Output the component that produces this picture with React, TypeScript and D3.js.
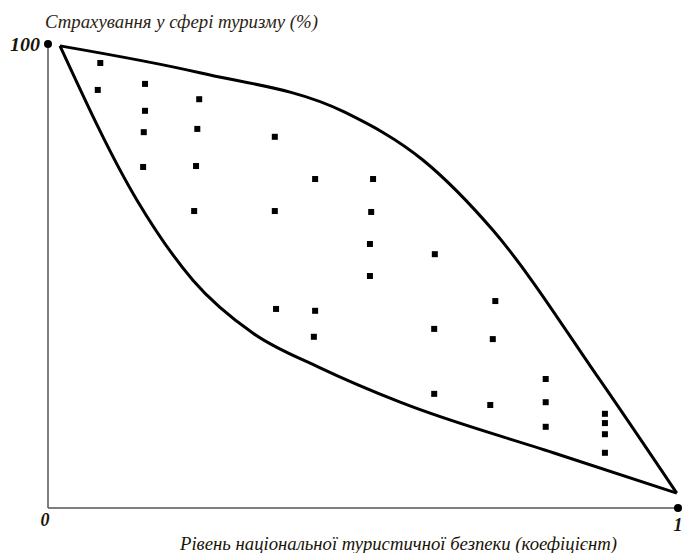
import React from 'react';
import * as d3 from 'd3';

// observed points (x = coefficient 0..1, y = %)
const pointsX = [0.083, 0.079, 0.154, 0.154, 0.152, 0.151, 0.24, 0.237, 0.235, 0.232, 0.36, 0.36, 0.362,
  0.424, 0.424, 0.422, 0.516, 0.513, 0.511, 0.511, 0.614, 0.613, 0.613, 0.71, 0.706, 0.702,
  0.79, 0.79, 0.79, 0.884, 0.884, 0.884, 0.884];
const pointsY = [95.9, 90.1, 91.4, 85.6, 81.0, 73.5, 88.1, 81.7, 73.7, 64.0, 80.0, 64.0, 42.9,
  70.9, 42.5, 36.9, 70.9, 63.8, 56.9, 50.0, 54.7, 38.6, 24.6, 44.6, 36.4, 22.2,
  27.8, 22.8, 17.5, 20.3, 18.3, 15.9, 11.9];

// upper boundary of the area
const upperX = [0.019, 0.241, 0.471, 0.595, 0.706, 0.876, 0.998];
const upperY = [99.6, 93.8, 85.3, 75.0, 59.9, 27.6, 3.2];

// lower boundary of the area
const lowerX = [0.019, 0.141, 0.23, 0.325, 0.432, 0.559, 0.802, 0.998];
const lowerY = [99.6, 66.4, 49.1, 37.7, 30.2, 22.8, 11.9, 3.2];

const yTitle = 'Страхування у сфері туризму (%)';
const xTitle = 'Рівень національної туристичної безпеки (коефіцієнт)';
const yMaxLabel = '100';
const originLabel = '0';
const xMaxLabel = '1';

export default function App() {
  const width = 682;
  const height = 553;

  const x = d3.scaleLinear().domain([0, 1]).range([48, 678]);
  const y = d3.scaleLinear().domain([0, 100]).range([508, 44]);

  const line = d3.line<[number, number]>()
    .x(d => x(d[0]))
    .y(d => y(d[1]))
    .curve(d3.curveMonotoneX);

  const upper = upperX.map((v, i) => [v, upperY[i]] as [number, number]);
  const lower = lowerX.map((v, i) => [v, lowerY[i]] as [number, number]);

  const serif = '"Liberation Serif", "DejaVu Serif", serif';

  return (
    <svg width={width} height={height} style={{ position: 'absolute', left: 0, top: 0, background: '#fff' }}>
      <text x={45} y={28} fontFamily={serif} fontStyle="italic" fontSize={18} textLength={273}
        lengthAdjust="spacingAndGlyphs" fill="#2b2414">{yTitle}</text>

      {/* axes */}
      <line x1={x(0)} y1={y(100)} x2={x(0)} y2={y(0)} stroke="#555" strokeWidth={1.5} />
      <line x1={x(0)} y1={y(0)} x2={x(1)} y2={y(0)} stroke="#555" strokeWidth={1.5} />
      <circle cx={x(0)} cy={y(100)} r={4} fill="#000" />
      <circle cx={x(1)} cy={y(0)} r={4} fill="#000" />

      <text x={10} y={51} fontFamily={serif} fontStyle="italic" fontWeight="bold" fontSize={18} textLength={30}
        lengthAdjust="spacingAndGlyphs" fill="#1a1408">{yMaxLabel}</text>
      <text x={x(0) - 3} y={526} textAnchor="middle" fontFamily={serif} fontStyle="italic" fontWeight="bold" fontSize={18} fill="#1a1408">{originLabel}</text>
      <text x={x(1)} y={531} textAnchor="middle" fontFamily={serif} fontStyle="italic" fontWeight="bold" fontSize={18} fill="#1a1408">{xMaxLabel}</text>

      <path d={line(upper) || ''} fill="none" stroke="#000" strokeWidth={3} />
      <path d={line(lower) || ''} fill="none" stroke="#000" strokeWidth={3} />

      {pointsX.map((v, i) => (
        <rect key={i} x={x(v) - 3} y={y(pointsY[i]) - 3} width={6} height={6} fill="#000" />
      ))}

      <text x={180} y={550} fontFamily={serif} fontStyle="italic" fontSize={18} textLength={437}
        lengthAdjust="spacingAndGlyphs" fill="#1a1408">{xTitle}</text>
    </svg>
  );
}
